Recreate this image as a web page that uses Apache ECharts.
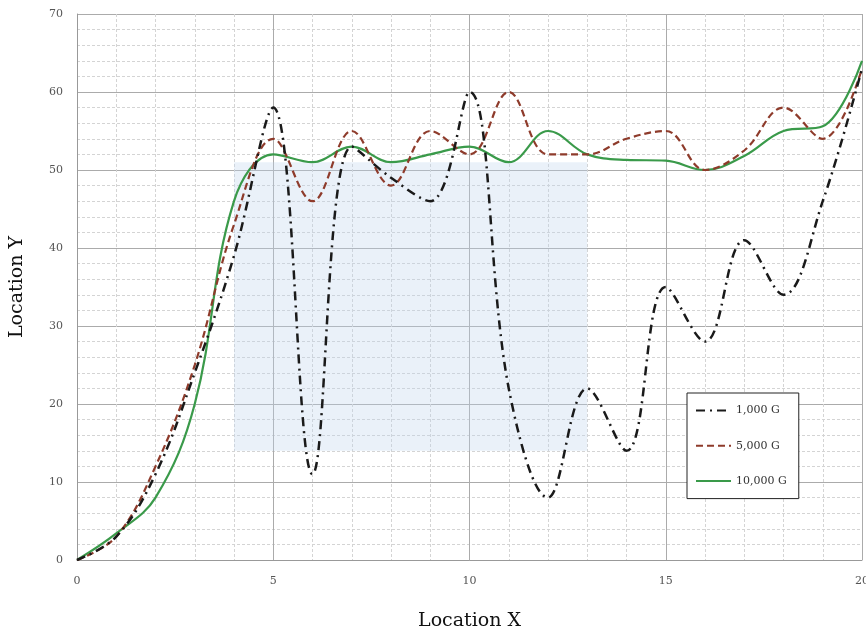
<!DOCTYPE html>
<html>
<head>
<meta charset="utf-8">
<script src="https://cdn.jsdelivr.net/npm/echarts@6/dist/echarts.min.js"></script>
<style>
  html, body { margin: 0; padding: 0; background: #fff; }
  #chart { width: 866px; height: 632px; }
</style>
</head>
<body>
<div id="chart"></div>
<script>
const xValues = [0, 1, 2, 3, 4, 5, 6, 7, 8, 9, 10, 11, 12, 13, 14, 15, 16, 17, 18, 19, 20]
const seriesNames = ['1,000 G', '5,000 G', '10,000 G']
const g1000 = [0, 3, 11, 24, 39, 58, 11, 53, 49, 46, 60, 22, 8, 22, 14, 35, 28, 41, 34, 46, 63]
const g5000 = [0, 3, 12, 25, 43, 54, 46, 55, 48, 55, 52, 60, 52, 52, 54, 55, 50, 52.5, 58, 54, 63]
const g10000 = [0, 3.4, 8, 20, 46, 52, 51, 53, 51, 52, 53, 51, 55, 52, 51.3, 51.2, 50, 51.8, 55, 55.6, 64]
// pale box behind the curves (x from-to, y from-to)
const shadeBox = [[4, 14], [13, 51]]

const serif = '"DejaVu Serif", "Liberation Serif", serif'

function pairs(ys) {
  return xValues.map((x, i) => [x, ys[i]])
}

const chart = echarts.init(document.getElementById('chart'), null, { renderer: 'canvas' })

const option = {
  backgroundColor: '#ffffff',
  animation: false,
  grid: {
    left: 77,
    right: 4,
    top: 14,
    bottom: 72,
    outerBoundsMode: 'none'
  },
  legend: {
    orient: 'vertical',
    left: 687,
    top: 393,
    padding: [12, 12, 12, 8],
    itemWidth: 35,
    itemHeight: 14,
    itemGap: 24,
    backgroundColor: '#ffffff',
    borderColor: '#222',
    borderWidth: 1,
    borderRadius: 0,
    itemStyle: { opacity: 0 },
    textStyle: {
      fontFamily: serif,
      fontSize: 11,
      color: '#333'
    },
    data: seriesNames
  },
  xAxis: {
    type: 'value',
    min: 0,
    max: 20,
    interval: 5,
    name: 'Location X',
    nameLocation: 'middle',
    nameGap: 52,
    nameTextStyle: {
      fontFamily: serif,
      fontSize: 19,
      color: '#111'
    },
    axisLine: { lineStyle: { color: '#999' } },
    axisTick: { show: false },
    axisLabel: {
      margin: 16,
      fontFamily: serif,
      fontSize: 11,
      color: '#555'
    },
    splitLine: { lineStyle: { color: '#ababab', width: 1 } },
    minorTick: { show: false, splitNumber: 5 },
    minorSplitLine: { show: true, lineStyle: { color: '#d4d4d4', type: [3, 2], width: 1 } }
  },
  yAxis: {
    type: 'value',
    min: 0,
    max: 70,
    interval: 10,
    name: 'Location Y',
    nameLocation: 'middle',
    nameGap: 50,
    nameRotate: 90,
    nameTextStyle: {
      fontFamily: serif,
      fontSize: 19,
      color: '#111'
    },
    axisLine: { show: true, lineStyle: { color: '#999' } },
    axisTick: { show: false },
    axisLabel: {
      margin: 14,
      fontFamily: serif,
      fontSize: 11,
      color: '#555'
    },
    splitLine: { lineStyle: { color: '#ababab', width: 1 } },
    minorTick: { show: false, splitNumber: 5 },
    minorSplitLine: { show: true, lineStyle: { color: '#d4d4d4', type: [3, 2], width: 1 } }
  },
  series: [
    {
      name: seriesNames[0],
      type: 'line',
      smooth: 0.38,
      symbol: 'none',
      z: 3,
      lineStyle: { color: '#1a1a1a', width: 2.5, type: [9, 5, 2, 5] },
      itemStyle: { color: '#1a1a1a' },
      markArea: {
        silent: true,
        itemStyle: { color: 'rgba(190, 210, 236, 0.32)' },
        data: [[{ coord: shadeBox[0] }, { coord: shadeBox[1] }]]
      },
      data: pairs(g1000)
    },
    {
      name: seriesNames[1],
      type: 'line',
      smooth: 0.38,
      symbol: 'none',
      z: 2,
      lineStyle: { color: '#8e3b2b', width: 2.2, type: [7, 4] },
      itemStyle: { color: '#8e3b2b' },
      data: pairs(g5000)
    },
    {
      name: seriesNames[2],
      type: 'line',
      smooth: 0.38,
      symbol: 'none',
      z: 1,
      lineStyle: { color: '#3a9a4a', width: 2.2 },
      itemStyle: { color: '#3a9a4a' },
      data: pairs(g10000)
    }
  ]
}

chart.setOption(option)
</script>
</body>
</html>
